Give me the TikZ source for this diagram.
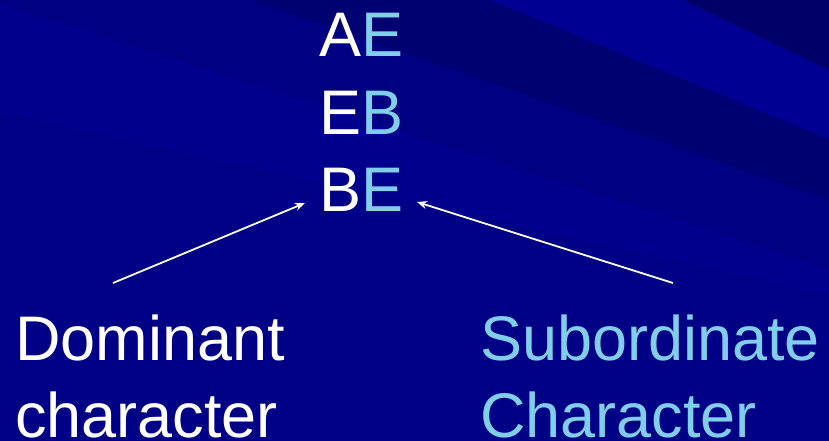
\documentclass[tikz,border=0pt]{standalone}
\usepackage{fontspec}
\setmainfont{Liberation Sans}
\usetikzlibrary{arrows.meta}
\definecolor{bgbase}{RGB}{0,0,140}
\definecolor{bgmid}{RGB}{0,0,130}
\definecolor{bgdark}{RGB}{0,0,114}
\definecolor{bglight}{RGB}{0,0,146}
\definecolor{bgcorner}{RGB}{0,0,104}
\definecolor{bglow}{RGB}{0,0,134}
\definecolor{subblue}{RGB}{128,206,236}
\tikzset{
  big/.style={inner sep=0pt, font=\fontsize{63}{77}\selectfont, text=white},
  pointer/.style={white, line width=1.8pt, -{Stealth[length=10pt,width=8pt]}},
}
\begin{document}
\begin{tikzpicture}[x=1pt,y=-1pt]
  % slide background with soft diagonal bands
  \useasboundingbox (0,0) rectangle (829,441);
  \begin{scope}
    \clip (0,0) rectangle (829,441);
    \fill[bgbase] (0,0) rectangle (829,441);
    \fill[bgmid] (0,3) -- (829,268) -- (829,-10) -- (0,-10) -- cycle;
    \fill[bgdark] (0,-87) -- (829,200) -- (829,-10) -- (0,-10) -- cycle;
    \fill[bglight] (0,-201) -- (829,139) -- (829,-10) -- (0,-10) -- cycle;
    \fill[bgcorner] (0,-328) -- (829,70) -- (829,-10) -- (0,-10) -- cycle;
    \fill[bglow] (0,113) -- (829,295) -- (829,450) -- (0,450) -- cycle;
  \end{scope}

  % the three genotype rows
  \node[big, anchor=base west] (AE) at (319,57) {A\textcolor{subblue}{E}};
  \node[big, anchor=base west] (EB) at (319,134) {E\textcolor{subblue}{B}};
  \node[big, anchor=base west] (BE) at (319,211) {B\textcolor{subblue}{E}};

  % labels (base anchor sits on the last line)
  \node[big, anchor=base west, align=left] (dom) at (15,437) {Dominant\\character};
  \node[big, anchor=base west, align=left, text=subblue] (sub) at (480,437) {Subordinate\\Character};

  % pointers to the lower row
  \coordinate (domTail) at (113,283);
  \coordinate (domTip) at (305,203);
  \coordinate (subTail) at (673,283);
  \coordinate (subTip) at (417,202);
  \draw[pointer] (domTail) -- (domTip);
  \draw[pointer] (subTail) -- (subTip);
\end{tikzpicture}
\end{document}
